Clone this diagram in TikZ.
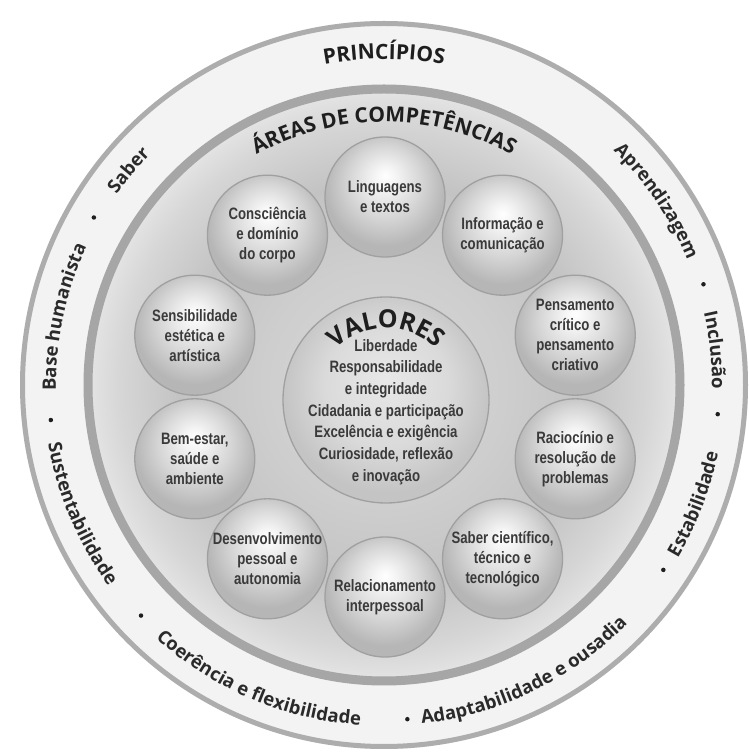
\documentclass[tikz,border=0pt]{standalone}
\usepackage{fontspec}
\setmainfont{Open Sans}
\newfontfamily\condfont[FakeStretch=0.8]{Liberation Sans}
\usetikzlibrary{decorations.text}
\definecolor{txt}{HTML}{1E1E1E}
\definecolor{ptxt}{HTML}{2A2A2A}
\definecolor{btxt}{HTML}{3A3A3A}
\definecolor{ringgray}{HTML}{ADADAD}
\definecolor{outerfill}{HTML}{F3F3F3}
\definecolor{bandgray}{HTML}{A6A6A6}
\definecolor{bubborder}{HTML}{A0A0A0}
\definecolor{bw0}{HTML}{FFFFFF}
\definecolor{bw1}{HTML}{F3F3F3}
\definecolor{bw2}{HTML}{D6D6D6}
\definecolor{bw3}{HTML}{B6B6B6}
\definecolor{vw0}{HTML}{E8E8E8}
\definecolor{vw1}{HTML}{DADADA}
\definecolor{vw2}{HTML}{C4C4C4}
\definecolor{in0}{HTML}{D8D8D8}
\definecolor{in1}{HTML}{CECECE}
\definecolor{in2}{HTML}{C3C3C3}
\definecolor{in3}{HTML}{D6D6D6}
\definecolor{in4}{HTML}{E6E6E6}
\pgfdeclareradialshading{bubsh}{\pgfpoint{0bp}{9bp}}{color(0bp)=(bw0); color(5bp)=(bw1); color(15bp)=(bw2); color(25bp)=(bw3); color(50bp)=(bw3)}
\pgfdeclareradialshading{valsh}{\pgfpoint{0bp}{5bp}}{color(0bp)=(vw0); color(15bp)=(vw1); color(25bp)=(vw2); color(50bp)=(vw2)}
\pgfdeclareradialshading{innsh}{\pgfpoint{0bp}{0bp}}{color(0bp)=(in0); color(10bp)=(in1); color(17bp)=(in2); color(22bp)=(in3); color(25bp)=(in4); color(50bp)=(in4)}
\tikzset{
  bubble/.style={circle, minimum size=120, inner sep=0, draw=bubborder, line width=1.3, shade, shading=bubsh},
  btext/.style={align=center, inner sep=0, text=btxt, font=\condfont\bfseries\fontsize{16.5}{20}\selectfont},
  princtxt/.style={decorate, decoration={text along path, text align=center, text={|\color{ptxt}\bfseries\fontsize{18.5}{18.5}\selectfont|#1}}},
  princbold/.style={decorate, decoration={text along path, text align=center, text={|\color{txt}\bfseries\fontsize{21}{21}\selectfont|#1}}},
  valbold/.style={decorate, decoration={text along path, text align=center, text={|\color{txt}\bfseries\fontsize{25}{25}\selectfont|#1}}},
  sepdot/.style={fill=txt, circle, inner sep=0, minimum size=4.5}
}
\begin{document}
\begin{tikzpicture}[x=1pt,y=1pt]
\useasboundingbox (0,0) rectangle (749,756);
\fill[white] (0,0) rectangle (749,756);
\coordinate (C) at (384,371);
\coordinate (B) at (385,359);
% outer ring
\fill[outerfill] (C) circle[radius=364];
\draw[ringgray, line width=5] (C) circle[radius=361.5];
% inner circle
\shade[shading=innsh] (C) circle[radius=300];
\draw[bandgray, line width=9] (C) circle[radius=296];
% titles
\path[princbold={ÁREAS DE COMPETÊNCIAS}] ([shift={(C)}]150:263) arc[start angle=150, end angle=30, radius=263];
\path[princbold={PRINCÍPIOS}] ([shift={(C)}]130:326) arc[start angle=130, end angle=50, radius=326];
% principles, top (clockwise)
\path[princtxt={Base humanista}] ([shift={(C)}]208:328) arc[start angle=208, end angle=128, radius=328];
\path[princtxt={Saber}] ([shift={(C)}]170:328) arc[start angle=170, end angle=110, radius=328];
\path[princtxt={Aprendizagem}] ([shift={(C)}]74:328) arc[start angle=74, end angle=-6, radius=328];
\path[princtxt={Inclusão}] ([shift={(C)}]36:328) arc[start angle=36, end angle=-24, radius=328];
% principles, bottom (counterclockwise)
\path[princtxt={Sustentabilidade}] ([shift={(C)}]163:341) arc[start angle=163, end angle=243, radius=341];
\path[princtxt={Coerência e flexibilidade}] ([shift={(C)}]197:341) arc[start angle=197, end angle=297, radius=341];
\path[princtxt={Adaptabilidade e ousadia}] ([shift={(C)}]246:341) arc[start angle=246, end angle=346, radius=341];
\path[princtxt={Estabilidade}] ([shift={(C)}]299:341) arc[start angle=299, end angle=379, radius=341];
% separator dots
\foreach \a [count=\i] in {150,186,223.5,274,326.5,355,17.5}
  \node[sepdot] (dot\i) at ([shift={(C)}]\a:335) {};
% bubbles
\node[bubble] (b1) at ([shift={(B)}]90:200) {};
\node[bubble] (b2) at ([shift={(B)}]54:200) {};
\node[bubble] (b3) at ([shift={(B)}]18:200) {};
\node[bubble] (b4) at ([shift={(B)}]-18:200) {};
\node[bubble] (b5) at ([shift={(B)}]-54:200) {};
\node[bubble] (b6) at ([shift={(B)}]-90:200) {};
\node[bubble] (b7) at ([shift={(B)}]-126:200) {};
\node[bubble] (b8) at ([shift={(B)}]-162:200) {};
\node[bubble] (b9) at ([shift={(B)}]162:200) {};
\node[bubble] (b10) at ([shift={(B)}]126:200) {};
\node[btext] (t1) at (b1) {Linguagens\\e textos};
\node[btext] (t2) at (b2) {Informação e\\comunicação};
\node[btext] (t3) at (b3) {Pensamento\\crítico e\\pensamento\\criativo};
\node[btext] (t4) at (b4) {Raciocínio e\\resolução de\\problemas};
\node[btext] (t5) at (b5) {Saber científico,\\técnico e\\tecnológico};
\node[btext] (t6) at (b6) {Relacionamento\\interpessoal};
\node[btext] (t7) at (b7) {Desenvolvimento\\pessoal e\\autonomia};
\node[btext] (t8) at (b8) {Bem-estar,\\saúde e\\ambiente};
\node[btext] (t9) at (b9) {Sensibilidade\\estética e\\artística};
\node[btext] (t10) at (b10) {Consciência\\e domínio\\do corpo};
% valores
\node[circle, minimum size=206, inner sep=0, draw=bubborder, line width=1.3, shade, shading=valsh] (val) at (386,356) {};
\path[valbold={VALORES}] ([shift={(val.center)}]165:72) arc[start angle=165, end angle=15, radius=72];
\node[btext, font=\condfont\bfseries\fontsize{16.5}{21.7}\selectfont] (valtext) at (386,344) {Liberdade\\Responsabilidade\\e integridade\\Cidadania e participação\\Excelência e exigência\\Curiosidade, reflexão\\e inovação};
\end{tikzpicture}
\end{document}
